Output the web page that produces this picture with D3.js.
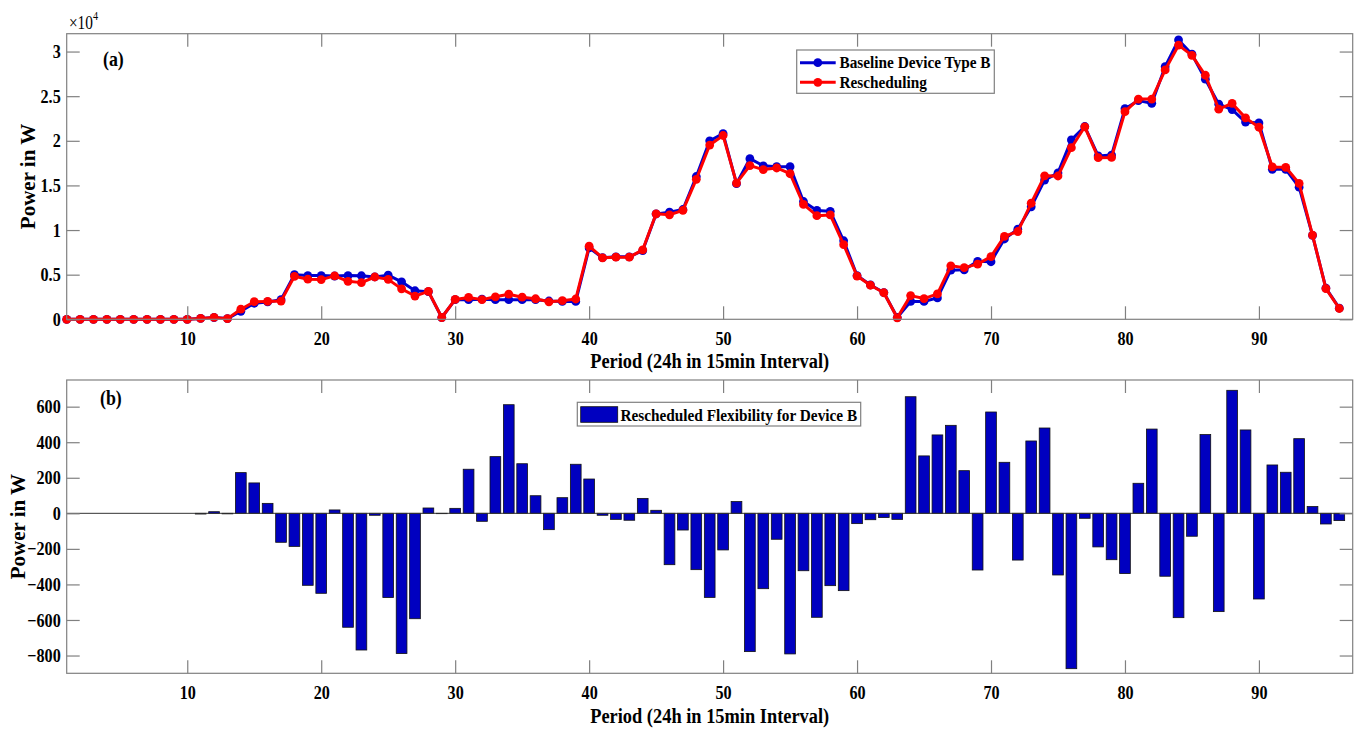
<!DOCTYPE html>
<html>
<head>
<meta charset="utf-8">
<script src="https://cdn.jsdelivr.net/npm/d3@7"></script>
<style>
  body { margin: 0; background: #fff; }
  text { font-family: "Liberation Serif", "Times New Roman", serif; fill: #000; }
</style>
</head>
<body>
<svg id="chart" width="1357" height="729"></svg>
<script>
// period index 1..96 (24h in 15 min steps)
var periods = d3.range(1, 97);

var baseline = [
  0, 0, 0, 0, 0, 0, 0, 0, 0, 0,
  100, 200, 80, 900, 1800, 1950, 2200, 5000, 4900, 4900,
  4850, 4900, 4880, 4750, 4950, 4200, 3200, 3100, 200, 2200,
  2200, 2250, 2200, 2200, 2200, 2200, 2050, 2000, 2000, 8000,
  6900, 7000, 7000, 7700, 11800, 12000, 12300, 16000, 20000, 20800,
  15200, 18000, 17200, 17100, 17100, 13200, 12200, 12100, 8800, 4900,
  3850, 3000, 200, 2000, 2000, 2400, 5500, 5550, 6500, 6450,
  9000, 10100, 12600, 15600, 16400, 20100, 21600, 18300, 18400, 23600,
  24500, 24200, 28300, 31300, 29700, 26900, 24100, 23500, 22100, 22000,
  16800, 16800, 14800, 9400, 3500, 1250
];

var rescheduled = [
  0, 0, 0, 0, 0, 0, 0, 0, 0, 0,
  95, 210, 75, 1130, 1970, 2005, 2040, 4815, 4495, 4450,
  4870, 4260, 4110, 4740, 4475, 3410, 2605, 3130, 200, 2230,
  2450, 2205, 2520, 2810, 2480, 2300, 1960, 2090, 2275, 8195,
  6890, 6965, 6960, 7785, 11815, 11710, 12205, 15685, 19525, 20595,
  15265, 17220, 16775, 16955, 16310, 12875, 11615, 11695, 8365, 4840,
  3815, 2975, 165, 2655, 2325, 2840, 5995, 5790, 6180, 7020,
  9285, 9835, 13005, 16080, 16055, 19225, 21570, 18110, 18140, 23260,
  24670, 24675, 27945, 30715, 29570, 27345, 23545, 24190, 22570, 21520,
  17070, 17030, 15220, 9440, 3440, 1210
];

var flexibility = [
  0, 0, 0, 0, 0, 0, 0, 0, 0, 0,
  -4, 9, -3, 229, 171, 56, -163, -186, -405, -450,
  19, -641, -769, -11, -474, -789, -593, 30, -2, 28,
  248, -45, 319, 611, 279, 99, -92, 88, 276, 193,
  -11, -34, -39, 84, 17, -289, -94, -317, -473, -206,
  66, -778, -424, -146, -791, -323, -585, -407, -435, -58,
  -36, -24, -34, 656, 323, 441, 495, 240, -319, 570,
  287, -263, 407, 480, -347, -874, -28, -189, -261, -339,
  169, 474, -354, -587, -129, 443, -553, 692, 469, -482,
  272, 231, 420, 38, -60, -41
];

var xTicks = [10, 20, 30, 40, 50, 60, 70, 80, 90];
var yTicksTop = [0, 5000, 10000, 15000, 20000, 25000, 30000];
var yTicksBottom = [-800, -600, -400, -200, 0, 200, 400, 600];

var seriesNames = ['Baseline Device Type B', 'Rescheduling'];
var barName = 'Rescheduled Flexibility for Device B';

var blue = '#0000cf';
var red = '#ff0000';
var barFill = '#0000c0';
var frameColor = '#808080';

// the source figure is a bit squeezed sideways, so text gets a horizontal scale
var sx = 0.85;

var svg = d3.select('#chart');
svg.append('rect').attr('width', 1357).attr('height', 729).attr('fill', '#fff');

var left = 66.7, right = 1352.7;
var tickLen = 13;

var x = d3.scaleLinear().domain([1, 97]).range([left, right]);

function label(g, tx, ty, size, str, anchor, scale) {
  return g.append('text')
      .attr('transform', 'translate(' + tx + ',' + ty + ') scale(' + (scale || sx) + ',1)')
      .attr('text-anchor', anchor || 'start')
      .attr('font-size', size)
      .attr('font-weight', 'bold')
      .text(str);
}

function yLabel(g, bx, cy) {
  g.append('text')
      .attr('transform', 'translate(' + bx + ',' + cy + ') rotate(-90)')
      .attr('text-anchor', 'middle')
      .attr('font-size', 21)
      .attr('font-weight', 'bold')
      .text('Power in W');
}

function drawFrame(g, y, top, bot, yTicks, yFmt) {
  g.append('rect')
      .attr('x', left).attr('y', top)
      .attr('width', right - left).attr('height', bot - top)
      .attr('fill', 'none').attr('stroke', frameColor).attr('stroke-width', 1.2);

  var ax = [
    d3.axisBottom(x).tickValues(xTicks).tickSizeInner(-tickLen).tickSizeOuter(0).tickPadding(12).tickFormat(d3.format('d')),
    d3.axisTop(x).tickValues(xTicks).tickSizeInner(-tickLen).tickSizeOuter(0).tickFormat(''),
    d3.axisLeft(y).tickValues(yTicks).tickSizeInner(-tickLen).tickSizeOuter(0).tickPadding(6).tickFormat(yFmt),
    d3.axisRight(y).tickValues(yTicks).tickSizeInner(-tickLen).tickSizeOuter(0).tickFormat('')
  ];
  var pos = ['translate(0,' + bot + ')', 'translate(0,' + top + ')',
             'translate(' + left + ',0)', 'translate(' + right + ',0)'];
  ax.forEach(function(a, i) {
    var axg = g.append('g').attr('transform', pos[i]).call(a);
    axg.select('.domain').remove();
    axg.selectAll('line').attr('stroke', frameColor).attr('stroke-width', 1.2);
    axg.selectAll('text')
        .attr('font-family', '"Liberation Serif", serif')
        .attr('font-weight', 'bold')
        .attr('font-size', 19)
        .attr('fill', '#000');
    if (i == 0) axg.selectAll('text').attr('transform', 'scale(' + sx + ',1)');
    if (i == 2) axg.selectAll('text').attr('x', -6 / sx).attr('transform', 'scale(' + sx + ',1)');
  });
}

// ---------- panel (a) ----------
var topA = 33.7, botA = 319.3;
var yA = d3.scaleLinear().domain([0, 32000]).range([botA, topA]);

var gA = svg.append('g');

var lineA = d3.line()
    .x(function(d, i) { return x(periods[i]); })
    .y(function(d) { return yA(d); });

[baseline, rescheduled].forEach(function(s, k) {
  var col = k == 0 ? blue : red;
  gA.append('path')
      .datum(s)
      .attr('d', lineA)
      .attr('fill', 'none')
      .attr('stroke', col)
      .attr('stroke-width', 3)
      .attr('stroke-linejoin', 'round');
  gA.selectAll('circle.s' + k)
      .data(s)
      .enter().append('circle')
      .attr('class', 's' + k)
      .attr('cx', function(d, i) { return x(periods[i]); })
      .attr('cy', function(d) { return yA(d); })
      .attr('r', 4.4)
      .attr('fill', col);
});

drawFrame(gA, yA, topA, botA, yTicksTop, function(d) { return d / 10000; });

// exponent label
var expo = gA.append('text').attr('transform', 'translate(69,29) scale(' + sx + ',1)')
    .attr('font-size', 18).attr('font-weight', 'normal');
expo.append('tspan').text('\u00d710');
expo.append('tspan').attr('dy', -9).attr('font-size', 12).text('4');

label(gA, 103, 66, 21, '(a)');
yLabel(gA, 35, (topA + botA) / 2);
label(gA, (left + right) / 2, 368, 20, 'Period (24h in 15min Interval)', 'middle', 0.92);

// legend (a)
var legA = gA.append('g');
legA.append('rect')
    .attr('x', 796.7).attr('y', 50).attr('width', 197.6).attr('height', 43.3)
    .attr('fill', '#fff').attr('stroke', frameColor).attr('stroke-width', 1.2);
seriesNames.forEach(function(name, i) {
  var cy = 62.7 + i * 19.6;
  var col = i == 0 ? blue : red;
  legA.append('line').attr('x1', 800).attr('x2', 835.7).attr('y1', cy).attr('y2', cy)
      .attr('stroke', col).attr('stroke-width', 3);
  legA.append('circle').attr('cx', 817.8).attr('cy', cy).attr('r', 4.4).attr('fill', col);
  label(legA, 839.5, cy + 5.5, 17, name, 'start', 0.9);
});

// ---------- panel (b) ----------
var topB = 380, botB = 673.3;
var yB = d3.scaleLinear().domain([-900, 750]).range([botB, topB]);
var barW = x(1.8) - x(1);

var gB = svg.append('g');

gB.selectAll('rect.bar')
    .data(flexibility)
    .enter().append('rect')
    .attr('class', 'bar')
    .attr('x', function(d, i) { return x(periods[i]) - barW / 2; })
    .attr('y', function(d) { return yB(Math.max(0, d)); })
    .attr('width', barW)
    .attr('height', function(d) { return Math.abs(yB(d) - yB(0)); })
    .attr('fill', barFill)
    .attr('stroke', '#111')
    .attr('stroke-width', 0.8);

gB.append('line')
    .attr('x1', left).attr('x2', right)
    .attr('y1', yB(0)).attr('y2', yB(0))
    .attr('stroke', '#333').attr('stroke-width', 1);

drawFrame(gB, yB, topB, botB, yTicksBottom, d3.format('d'));

label(gB, 100, 405, 21, '(b)');
yLabel(gB, 25, (topB + botB) / 2);
label(gB, (left + right) / 2, 723, 20, 'Period (24h in 15min Interval)', 'middle', 0.92);

// legend (b)
var legB = gB.append('g');
legB.append('rect')
    .attr('x', 577.3).attr('y', 402.3).attr('width', 283.4).attr('height', 23.7)
    .attr('fill', '#fff').attr('stroke', frameColor).attr('stroke-width', 1.2);
legB.append('rect')
    .attr('x', 580.7).attr('y', 406.7).attr('width', 37).attr('height', 15.6)
    .attr('fill', barFill).attr('stroke', '#111').attr('stroke-width', 0.8);
label(legB, 620.5, 420.5, 17, barName, 'start', 0.9);
</script>
</body>
</html>
